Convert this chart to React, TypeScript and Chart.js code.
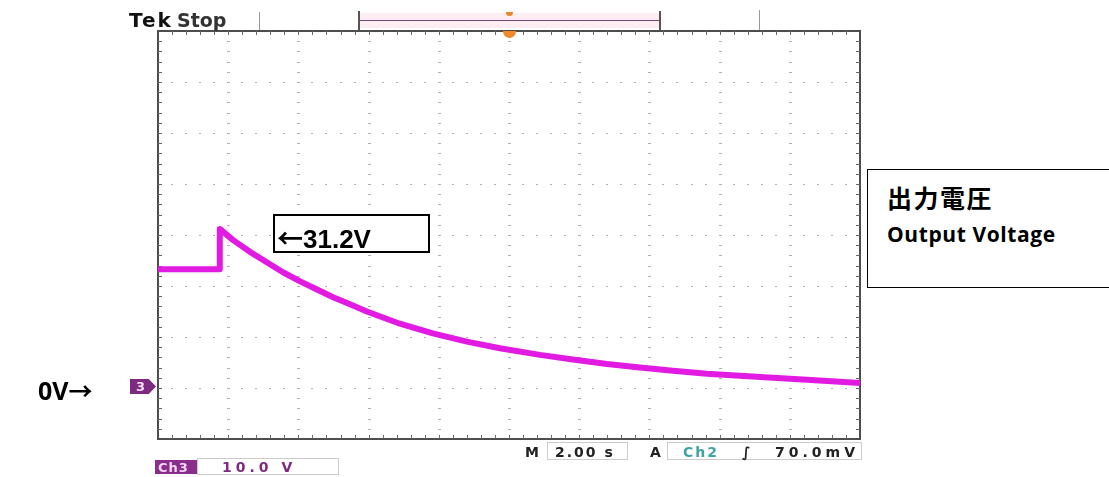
import React, { useEffect, useRef } from "react";
import { Chart, registerables } from "chart.js";

Chart.register(...registerables);

// ---- data read from the oscilloscope capture (Ch3, 10 V/div, 2 s/div) ----
const timeS = [0, 1.74, 1.76, 2.14, 2.62, 3.11, 3.56, 4.05, 4.53, 4.99, 5.47, 5.95, 6.89, 7.83, 8.8, 9.74, 10.88, 11.82, 12.79, 13.73, 14.67, 15.64, 16.58, 17.52, 18.49, 20];
const voltageV = [23.3, 23.3, 31.2, 29.0, 26.7, 24.6, 22.7, 20.9, 19.3, 17.8, 16.4, 15.0, 12.6, 10.7, 9.1, 7.8, 6.5, 5.6, 4.7, 4.0, 3.4, 2.8, 2.4, 2.0, 1.6, 1.0];

const timeRange = [0, 20];
const voltRange = [-10, 70];
const timePerDiv = 2;
const voltPerDiv = 10;
const minorPerDiv = 5;

const peakValue = "31.2V";
const zeroValue = "0V";
const titleJa = "出力電圧";
const titleEn = "Output Voltage";
const vScaleLabel = "10.0 V";
const tScaleLabel = "2.00 s";
const trigLevelLabel = "70.0mV";

const scopeGrid = {
  id: "scopeGrid",
  beforeDatasetsDraw(chart: any) {
    const { ctx, chartArea: a, scales } = chart;
    const xs = scales.x;
    const ys = scales.y;
    const xMinor = timePerDiv / minorPerDiv;
    const yMinor = voltPerDiv / minorPerDiv;
    ctx.save();
    ctx.fillStyle = "#b0b0b0";
    for (let xv = timeRange[0] + timePerDiv; xv < timeRange[1] - 1e-6; xv += timePerDiv) {
      const px = Math.round(xs.getPixelForValue(xv));
      for (let yv = voltRange[0] + yMinor; yv < voltRange[1] - 1e-6; yv += yMinor) {
        const py = Math.round(ys.getPixelForValue(yv));
        ctx.fillRect(px - 1, py, 3, 1);
      }
    }
    for (let yv = voltRange[0] + voltPerDiv; yv < voltRange[1] - 1e-6; yv += voltPerDiv) {
      const py = Math.round(ys.getPixelForValue(yv));
      for (let xv = timeRange[0] + xMinor; xv < timeRange[1] - 1e-6; xv += xMinor) {
        const px = Math.round(xs.getPixelForValue(xv));
        ctx.fillRect(px - 1, py, 2, 1);
      }
    }
    ctx.strokeStyle = "#4d4d4d";
    ctx.lineWidth = 2;
    ctx.strokeRect(a.left, a.top, a.right - a.left, a.bottom - a.top);
    ctx.strokeStyle = "#666";
    ctx.lineWidth = 1;
    ctx.beginPath();
    for (let xv = timeRange[0] + xMinor; xv < timeRange[1] - 1e-6; xv += xMinor) {
      const px = Math.round(xs.getPixelForValue(xv)) + 0.5;
      ctx.moveTo(px, a.top);
      ctx.lineTo(px, a.top + 4);
      ctx.moveTo(px, a.bottom);
      ctx.lineTo(px, a.bottom - 4);
    }
    for (let yv = voltRange[0] + yMinor; yv < voltRange[1] - 1e-6; yv += yMinor) {
      const py = Math.round(ys.getPixelForValue(yv)) + 0.5;
      ctx.moveTo(a.left, py);
      ctx.lineTo(a.left + 4, py);
      ctx.moveTo(a.right, py);
      ctx.lineTo(a.right - 4, py);
    }
    ctx.stroke();
    ctx.restore();
  },
};

const abs = (s: React.CSSProperties): React.CSSProperties => ({ position: "absolute", whiteSpace: "nowrap", ...s });
const arrowFont = "'Noto Sans CJK JP', sans-serif";

export default function App() {
  const canvasRef = useRef<HTMLCanvasElement | null>(null);

  useEffect(() => {
    const canvas = canvasRef.current;
    if (!canvas) return;
    const chart = new Chart(canvas, {
      type: "line",
      data: {
        datasets: [
          {
            data: timeS.map((t, i) => ({ x: t, y: voltageV[i] })),
            borderColor: "#e21be2",
            borderWidth: 6,
            pointRadius: 0,
            tension: 0,
            borderJoinStyle: "round",
            fill: false,
          },
        ],
      },
      options: {
        responsive: false,
        animation: false,
        layout: { padding: { left: 158, right: 249, top: 31, bottom: 38 } },
        plugins: { legend: { display: false }, tooltip: { enabled: false } },
        scales: {
          x: { type: "linear", min: timeRange[0], max: timeRange[1], display: false },
          y: { type: "linear", min: voltRange[0], max: voltRange[1], display: false },
        },
      },
      plugins: [scopeGrid],
    });
    return () => chart.destroy();
  }, []);

  const tek: React.CSSProperties = { fontFamily: "'DejaVu Sans', sans-serif", fontWeight: "bold", fontSize: 14, lineHeight: 1 };

  return (
    <div style={{ position: "fixed", left: 0, top: 0, width: 1109, height: 477, overflow: "hidden", background: "#fff" }}>
      <canvas ref={canvasRef} width={1109} height={477} style={{ display: "block", position: "absolute", left: 0, top: 0 }} />

      {/* top status bar */}
      <div style={abs({ left: 129, top: 10, fontFamily: "'DejaVu Sans', sans-serif", fontWeight: "bold", fontSize: 20, lineHeight: 1, color: "#111", letterSpacing: 2 })}>Tek</div>
      <div style={abs({ left: 177, top: 11, fontFamily: "'DejaVu Sans', sans-serif", fontWeight: "bold", fontSize: 19, lineHeight: 1, color: "#333" })}>Stop</div>
      <div style={abs({ left: 259, top: 12, width: 1, height: 18, background: "#999" })} />
      <div style={abs({ left: 759, top: 10, width: 1, height: 20, background: "#999" })} />
      <div style={abs({ left: 359, top: 13, width: 301, height: 15, background: "#fcedf3" })} />
      <div style={abs({ left: 358, top: 11, width: 2, height: 19, background: "#555" })} />
      <div style={abs({ left: 659, top: 11, width: 2, height: 19, background: "#555" })} />
      <div style={abs({ left: 360, top: 20, width: 299, height: 1, background: "#6a4a70" })} />
      <div style={abs({ left: 506, top: 12, width: 7, height: 4, background: "#e8862a", borderRadius: "0 0 4px 4px" })} />
      <div style={abs({ left: 503, top: 31, width: 13, height: 7, background: "#ee8a2a", borderRadius: "0 0 7px 7px" })} />

      {/* ground marker */}
      <div style={abs({ left: 130, top: 379, width: 26, height: 15, background: "#7e2a80", clipPath: "polygon(0 0, 72% 0, 100% 50%, 72% 100%, 0 100%)" })} />
      <div style={abs({ left: 136, top: 380, color: "#f3dff3", fontFamily: "'DejaVu Sans', sans-serif", fontWeight: "bold", fontSize: 13, lineHeight: 1 })}>3</div>

      {/* bottom readouts */}
      <div style={abs({ left: 155, top: 460, width: 42, height: 14, background: "#8a2d8c" })} />
      <div style={abs({ ...tek, left: 158, top: 461, color: "#f2d8f2", fontSize: 13, letterSpacing: 1 })}>Ch3</div>
      <div style={abs({ left: 197, top: 458, width: 142, height: 17, border: "1px solid #ccc", boxSizing: "border-box" })} />
      <div style={abs({ ...tek, left: 222, top: 460, color: "#7e2a80", letterSpacing: 4 })}>{vScaleLabel}</div>

      <div style={abs({ ...tek, left: 525, top: 445, color: "#222" })}>M</div>
      <div style={abs({ left: 547, top: 442, width: 81, height: 18, border: "1px solid #ccc", boxSizing: "border-box" })} />
      <div style={abs({ ...tek, left: 555, top: 445, color: "#222", letterSpacing: 2 })}>{tScaleLabel}</div>
      <div style={abs({ ...tek, left: 650, top: 445, color: "#222" })}>A</div>
      <div style={abs({ left: 667, top: 442, width: 195, height: 18, border: "1px solid #ccc", boxSizing: "border-box" })} />
      <div style={abs({ ...tek, left: 683, top: 445, color: "#3fa3a3", letterSpacing: 2 })}>Ch2</div>
      <div style={abs({ ...tek, left: 742, top: 445, color: "#222", fontStyle: "italic" })}>∫</div>
      <div style={abs({ ...tek, left: 775, top: 445, color: "#222", letterSpacing: 4 })}>{trigLevelLabel}</div>

      {/* annotations */}
      <div style={abs({ left: 38, top: 378, fontFamily: "'Open Sans', sans-serif", fontWeight: "bold", fontSize: 25, lineHeight: 1, color: "#000" })}>
        {zeroValue}<span style={{ fontFamily: arrowFont, fontSize: 24 }}>→</span>
      </div>

      <div style={abs({ left: 273, top: 214, width: 157, height: 39, border: "2px solid #000", boxSizing: "border-box", background: "#fff" })} />
      <div style={abs({ left: 277, top: 224, fontFamily: "'Liberation Sans', sans-serif", fontWeight: "bold", fontSize: 26, lineHeight: 1, color: "#000" })}>
        <span style={{ fontFamily: arrowFont }}>←</span>{peakValue}
      </div>

      <div style={abs({ left: 867, top: 169, width: 260, height: 119, border: "1.5px solid #000", boxSizing: "border-box", background: "#fff" })} />
      <div style={abs({ left: 887, top: 185, fontFamily: "'Noto Sans CJK JP', sans-serif", fontWeight: "bold", fontSize: 25, lineHeight: 1, color: "#000", letterSpacing: 1.5 })}>{titleJa}</div>
      <div style={abs({ left: 887, top: 224, fontFamily: "'Open Sans', sans-serif", fontWeight: "bold", fontSize: 21, lineHeight: 1, color: "#000", letterSpacing: 0.6 })}>{titleEn}</div>
    </div>
  );
}
